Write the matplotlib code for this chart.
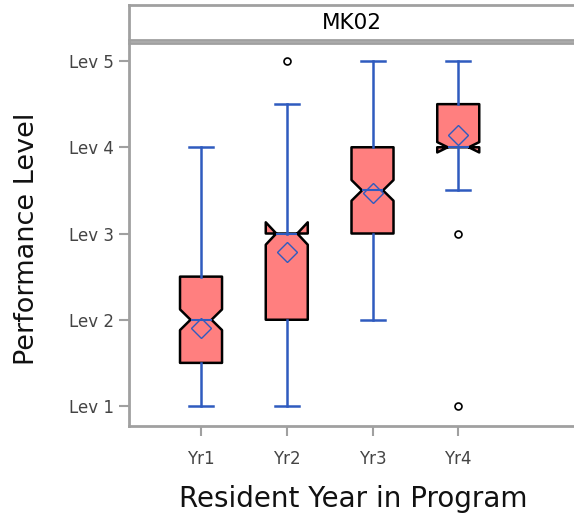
import matplotlib
matplotlib.use("Agg")
import matplotlib.pyplot as plt

# Summary statistics per resident year
years = ["Yr1", "Yr2", "Yr3", "Yr4"]
q1 = [1.5, 2.0, 3.0, 4.0]
median = [2.0, 3.0, 3.5, 4.0]
q3 = [2.5, 3.0, 4.0, 4.5]
whisker_low = [1.0, 1.0, 2.0, 3.5]
whisker_high = [4.0, 4.5, 5.0, 5.0]
ci_low = [1.88, 2.87, 3.38, 3.94]
ci_high = [2.12, 3.13, 3.62, 4.06]
means = [1.91, 2.79, 3.47, 4.14]
outliers = [[], [5.0], [], [3.0, 1.0]]

level_ticks = [1, 2, 3, 4, 5]
level_labels = ["Lev 1", "Lev 2", "Lev 3", "Lev 4", "Lev 5"]

panel_title = "MK02"
x_label = "Resident Year in Program"
y_label = "Performance Level"

BOX_FILL = "#ff7f7f"
BLUE = "#2f5bbf"
FRAME = "#a0a0a0"

fig = plt.figure(figsize=(5.74, 5.22), dpi=100)
W, H = 574, 522

def fig_rect(x0, y0, x1, y1):
    return [x0 / W, 1 - y1 / H, (x1 - x0) / W, (y1 - y0) / H]

ax = fig.add_axes(fig_rect(129, 43, 580, 426))

stats = []
for i in range(len(years)):
    stats.append(dict(
        label=years[i], q1=q1[i], med=median[i], q3=q3[i],
        whislo=whisker_low[i], whishi=whisker_high[i],
        cilo=ci_low[i], cihi=ci_high[i], mean=means[i],
        fliers=outliers[i],
    ))

positions = list(range(1, len(years) + 1))
ax.bxp(
    stats, positions=positions, widths=0.49, capwidths=0.28,
    shownotches=True, showmeans=True, patch_artist=True,
    boxprops=dict(facecolor=BOX_FILL, edgecolor="black", linewidth=1.8,
                  joinstyle="round"),
    whiskerprops=dict(color=BLUE, linewidth=1.8),
    capprops=dict(color=BLUE, linewidth=1.8),
    medianprops=dict(color=BLUE, linewidth=1.5),
    meanprops=dict(marker="D", markerfacecolor="none", markeredgecolor=BLUE,
                   markeredgewidth=1.0, markersize=10.5),
    flierprops=dict(marker="o", markerfacecolor="none", markeredgecolor="black",
                    markeredgewidth=1.2, markersize=5),
    zorder=3,
)

ax.set_xlim(0.16, 5.42)
ax.set_ylim(0.768, 5.209)
ax.set_yticks(level_ticks)
ax.set_yticklabels(level_labels)
ax.set_xticks(positions)
ax.set_xticklabels(years)

ax.spines["right"].set_visible(False)
for side in ["left", "bottom", "top"]:
    ax.spines[side].set_color(FRAME)
    ax.spines[side].set_linewidth(2.0)

ax.tick_params(axis="both", direction="out", length=7, width=1.5,
               color=FRAME, labelsize=12, labelcolor="#444444")
ax.tick_params(axis="y", pad=4)
ax.tick_params(axis="x", pad=10)

ax.set_xlabel(x_label, fontsize=20, color="#111111")
ax.set_ylabel(y_label, fontsize=19.5, color="#111111")
ax.xaxis.set_label_coords(0.497, -0.155)
ax.yaxis.set_label_coords(-0.198, 0.488)

# Panel header strip
hdr = fig.add_axes(fig_rect(129, 5, 580, 40))
hdr.set_xticks([])
hdr.set_yticks([])
for side in ["left", "top", "bottom", "right"]:
    hdr.spines[side].set_color(FRAME)
    hdr.spines[side].set_linewidth(2.0)
hdr.text((352 - 129) / (580 - 129), 0.48, panel_title, ha="center", va="center",
         fontsize=15.5, color="black", transform=hdr.transAxes)

fig.savefig("out.png", dpi=100)
